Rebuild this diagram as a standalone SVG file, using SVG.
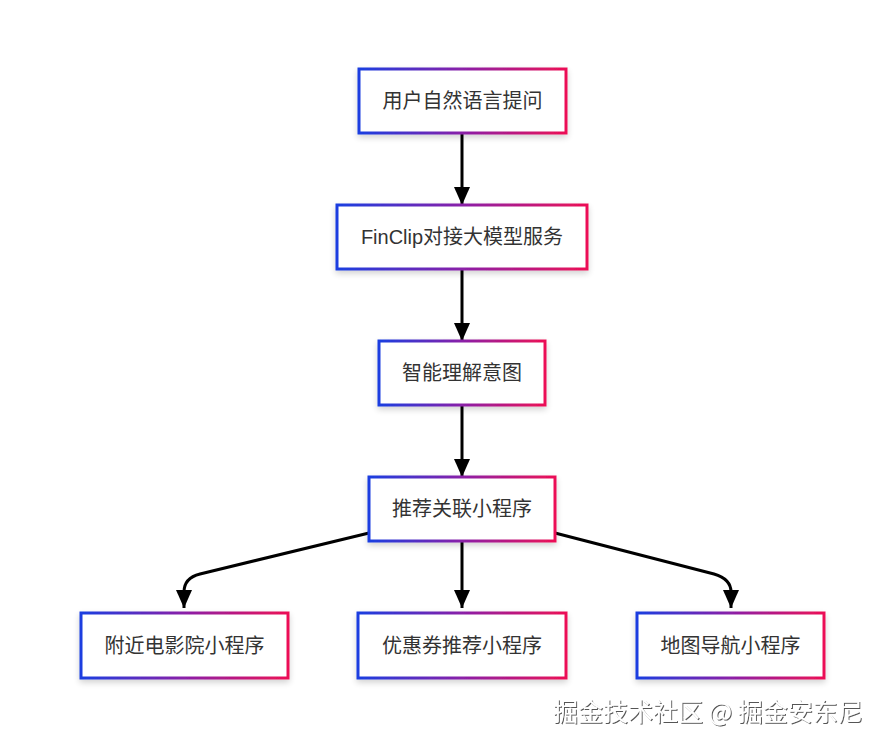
<svg xmlns="http://www.w3.org/2000/svg" width="883" height="747" viewBox="0 0 883 747">
<defs>
<linearGradient id="g" x1="0" y1="0" x2="1" y2="0">
<stop offset="0" stop-color="#1a3ee0"/>
<stop offset="0.5" stop-color="#8a20a8"/>
<stop offset="1" stop-color="#ec1056"/>
</linearGradient>
<filter id="sh" x="-20%" y="-30%" width="140%" height="160%">
<feGaussianBlur in="SourceAlpha" stdDeviation="3"/>
<feOffset dx="0" dy="3"/>
<feComponentTransfer><feFuncA type="linear" slope="0.18"/></feComponentTransfer>
<feMerge><feMergeNode/><feMergeNode in="SourceGraphic"/></feMerge>
</filter>
<filter id="wm" x="-5%" y="-30%" width="110%" height="160%">
<feOffset in="SourceAlpha" dx="1" dy="1" result="o"/>
<feFlood flood-color="#555"/>
<feComposite in2="o" operator="in"/>
<feMerge><feMergeNode/><feMergeNode in="SourceGraphic"/></feMerge>
</filter>
<marker id="ah" viewBox="0 0 18 16" refX="18" refY="8" markerWidth="18" markerHeight="16" markerUnits="userSpaceOnUse" orient="auto">
<path d="M0,0 L18,8 L0,16 Z" fill="#000"/>
</marker>
</defs>
<style>
.box{fill:#fff;stroke:url(#g);stroke-width:3;filter:url(#sh)}
.lbl{font-family:"Liberation Sans","Noto Sans CJK SC",sans-serif;font-size:20px;fill:#333;text-anchor:middle;dominant-baseline:central}
.c{fill:none;stroke:#000;stroke-width:3;marker-end:url(#ah)}
</style>
<rect width="883" height="747" fill="#fff"/>
<g id="connectors">
<path class="c" d="M462,133 L462,205"/>
<path class="c" d="M462,269 L462,341"/>
<path class="c" d="M462,405 L462,477"/>
<path class="c" d="M462,541 L462,608"/>
<path class="c" d="M369,533 L200,574 Q184,578 184,592 L184,608"/>
<path class="c" d="M555,533 L714,574 Q731,579 731,592 L731,608"/>
</g>
<g id="n1"><rect class="box" x="359" y="69" width="207" height="64"/><text class="lbl" x="462.5" y="101">用户自然语言提问</text></g>
<g id="n2"><rect class="box" x="337" y="205" width="250" height="64"/><text class="lbl" x="462" y="237">FinClip对接大模型服务</text></g>
<g id="n3"><rect class="box" x="379" y="341" width="166" height="64"/><text class="lbl" x="462" y="373">智能理解意图</text></g>
<g id="n4"><rect class="box" x="369" y="477" width="186" height="64"/><text class="lbl" x="462" y="509">推荐关联小程序</text></g>
<g id="n5"><rect class="box" x="81" y="613" width="207" height="65"/><text class="lbl" x="184.5" y="645.5">附近电影院小程序</text></g>
<g id="n6"><rect class="box" x="358" y="613" width="208" height="65"/><text class="lbl" x="462" y="645.5">优惠券推荐小程序</text></g>
<g id="n7"><rect class="box" x="637" y="613" width="187" height="65"/><text class="lbl" x="730.5" y="645.5">地图导航小程序</text></g>
<text x="553" y="721" font-family="'Noto Sans CJK SC',sans-serif" font-size="25" fill="#fff" filter="url(#wm)">掘金技术社区 @ 掘金安东尼</text>
</svg>
